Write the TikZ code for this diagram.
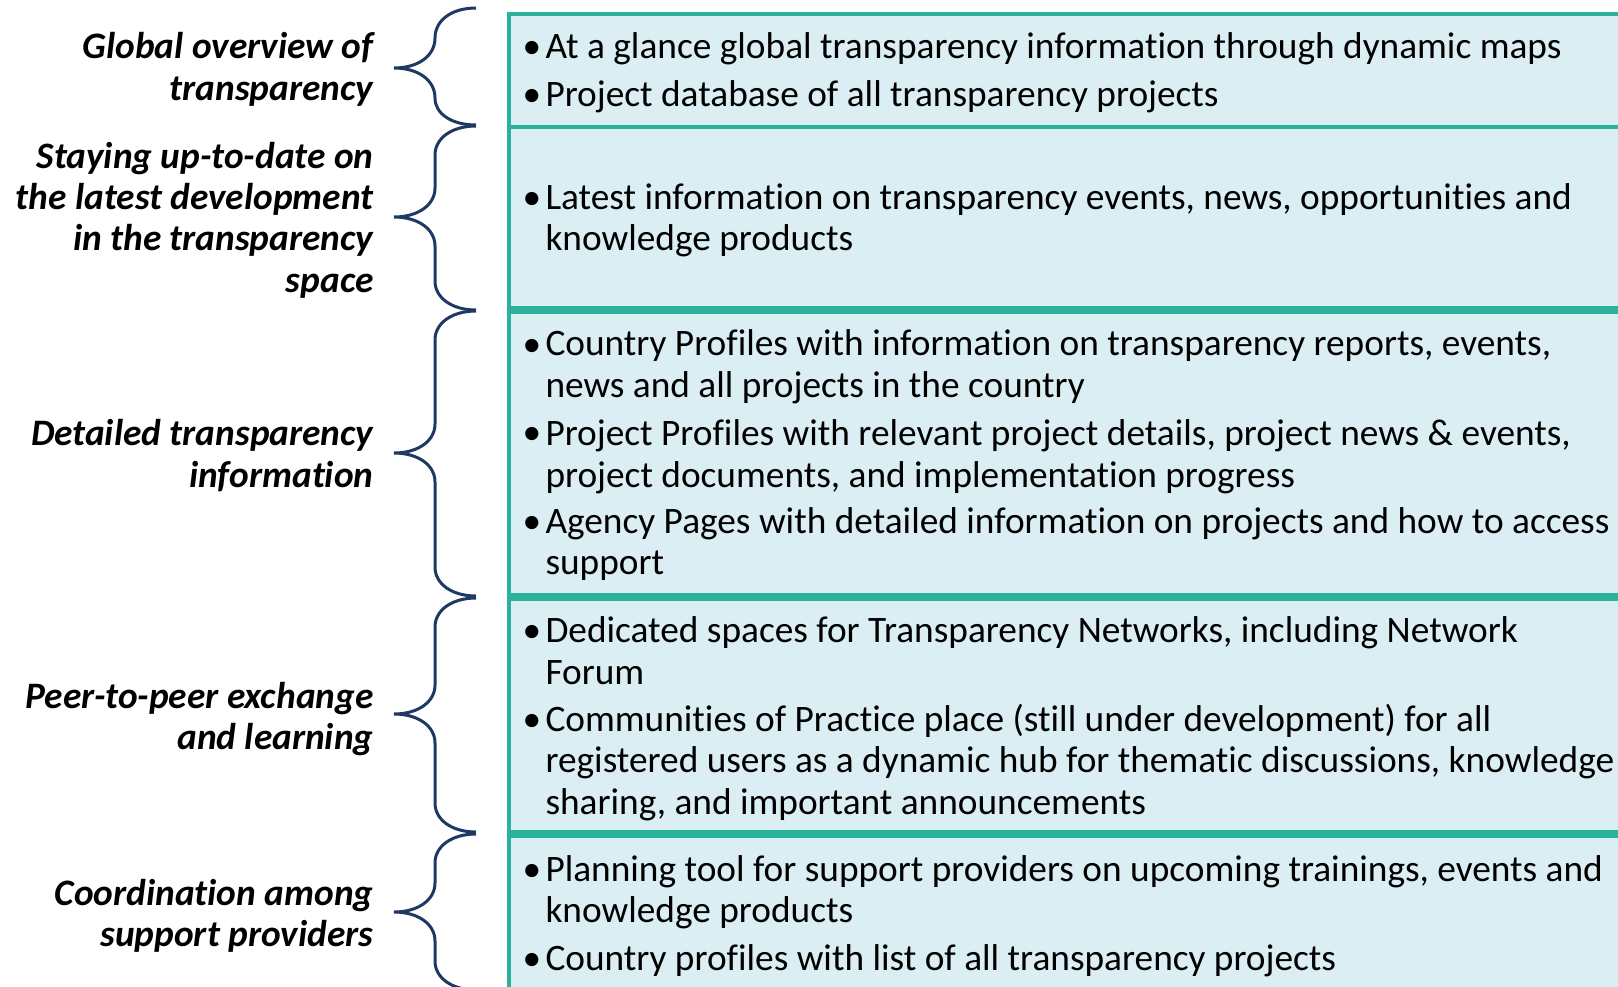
\documentclass[tikz,border=0pt]{standalone}
\usepackage{fontspec}
\setmainfont{Carlito}[Ligatures=NoCommon]
\definecolor{boxteal}{RGB}{43,178,155}
\definecolor{boxfill}{RGB}{218,238,243}
\definecolor{bracenavy}{RGB}{31,56,100}
\tikzset{every picture/.style={line width=0.75pt},
  panel/.style={draw=boxteal, fill=boxfill, line width=3pt},
  curly/.style={draw=bracenavy, line width=2.25pt},
  lab/.style={anchor=base east, inner sep=0pt, align=right, font=\fontsize{28}{31}\selectfont\bfseries\itshape},
  item/.style={anchor=base west, inner sep=0pt, align=left, font=\fontsize{28}{31}\selectfont},
  bul/.style={anchor=base west, inner sep=0pt, font=\fontsize{28}{31}\selectfont}
}

\begin{document}
\begin{tikzpicture}[x=0.75pt,y=0.75pt,yscale=-1,xscale=1]
\clip (0,0) rectangle (1618,986);

%Shape: Rectangle [global]
\draw [panel] (509,14) -- (1640,14) -- (1640,127) -- (509,127) -- cycle ;
%Shape: Rectangle [latest]
\draw [panel] (509,127) -- (1640,127) -- (1640,308) -- (509,308) -- cycle ;
%Shape: Rectangle [detailed]
\draw [panel] (509,312) -- (1640,312) -- (1640,595) -- (509,595) -- cycle ;
%Shape: Rectangle [peer]
\draw [panel] (509,598.5) -- (1640,598.5) -- (1640,831.5) -- (509,831.5) -- cycle ;
%Shape: Rectangle [coordination]
\draw [panel] (509,835.5) -- (1640,835.5) -- (1640,1010) -- (509,1010) -- cycle ;

%Curly Brace [global]
\draw [curly] (476,8) .. controls (452,8) and (435,20) .. (435,38) .. controls (435,56) and (418,68) .. (394,68) .. controls (418,68) and (435,80) .. (435,98) .. controls (435,114) and (452,125) .. (476,125) ;
%Curly Brace [latest]
\draw [curly] (476,126) .. controls (452,126) and (435,138) .. (435,155) -- (435,188) .. controls (435,205) and (418,217) .. (394,217) .. controls (418,217) and (435,229) .. (435,246) -- (435,281) .. controls (435,298) and (452,310) .. (476,310) ;
%Curly Brace [detailed]
\draw [curly] (476,311) .. controls (452,311) and (435,323) .. (435,340) -- (435,424) .. controls (435,441) and (418,453) .. (394,453) .. controls (418,453) and (435,465) .. (435,482) -- (435,567) .. controls (435,584) and (452,596) .. (476,596) ;
%Curly Brace [peer]
\draw [curly] (476,598) .. controls (452,598) and (435,610) .. (435,627) -- (435,685) .. controls (435,702) and (418,714) .. (394,714) .. controls (418,714) and (435,726) .. (435,743) -- (435,803) .. controls (435,820) and (452,832) .. (476,832) ;
%Curly Brace [coordination]
\draw [curly] (476,834) .. controls (452,834) and (435,846) .. (435,863) -- (435,883) .. controls (435,900) and (418,912) .. (394,912) .. controls (418,912) and (435,924) .. (435,941) -- (435,961) .. controls (435,978) and (452,990) .. (476,990) ;

% Text Node
\draw (374,100.3) node (lab1) [lab] {Global overview of\\transparency};
% Text Node
\draw (374,292.2) node (lab2) [lab] {Staying up-to-date on\\the latest development\\in the transparency\\space};
% Text Node
\draw (374,487.3) node (lab3) [lab] {Detailed transparency\\information};
% Text Node
\draw (374,749.4) node (lab4) [lab] {Peer-to-peer exchange\\and learning};
% Text Node
\draw (374,946.5) node (lab5) [lab] {Coordination among\\support providers};

% Text Node
\draw (522,58.6) node (d1a) [bul] {•};
\draw (545,58.6) node (t1a) [item] {At a glance global transparency information through dynamic maps};
% Text Node
\draw (522,106.1) node (d1b) [bul] {•};
\draw (545,106.1) node (t1b) [item] {Project database of all transparency projects};
% Text Node
\draw (522,209.5) node (d2a) [bul] {•};
\draw (545,250.8) node (t2a) [item] {Latest information on transparency events, news, opportunities and\\knowledge products};
% Text Node
\draw (522,356) node (d3a) [bul] {•};
\draw (545,397.3) node (t3a) [item] {Country Profiles with information on transparency reports, events,\\news and all projects in the country};
% Text Node
\draw (522,444.8) node (d3b) [bul] {•};
\draw (545,487.1) node (t3b) [item] {Project Profiles with relevant project details, project news \& events,\\project documents, and implementation progress};
% Text Node
\draw (522,533.5) node (d3c) [bul] {•};
\draw (545,574.8) node (t3c) [item] {Agency Pages with detailed information on projects and how to access\\support};
% Text Node
\draw (522,642.8) node (d4a) [bul] {•};
\draw (545,684.2) node (t4a) [item] {Dedicated spaces for Transparency Networks, including Network\\Forum};
% Text Node
\draw (522,731.7) node (d4b) [bul] {•};
\draw (545,814.2) node (t4b) [item] {Communities of Practice place (still under development) for all\\registered users as a dynamic hub for thematic discussions, knowledge\\sharing, and important announcements};
% Text Node
\draw (522,881.3) node (d5a) [bul] {•};
\draw (545,922.6) node (t5a) [item] {Planning tool for support providers on upcoming trainings, events and\\knowledge products};
% Text Node
\draw (522,970.1) node (d5b) [bul] {•};
\draw (545,970.1) node (t5b) [item] {Country profiles with list of all transparency projects};

\end{tikzpicture}
\end{document}
